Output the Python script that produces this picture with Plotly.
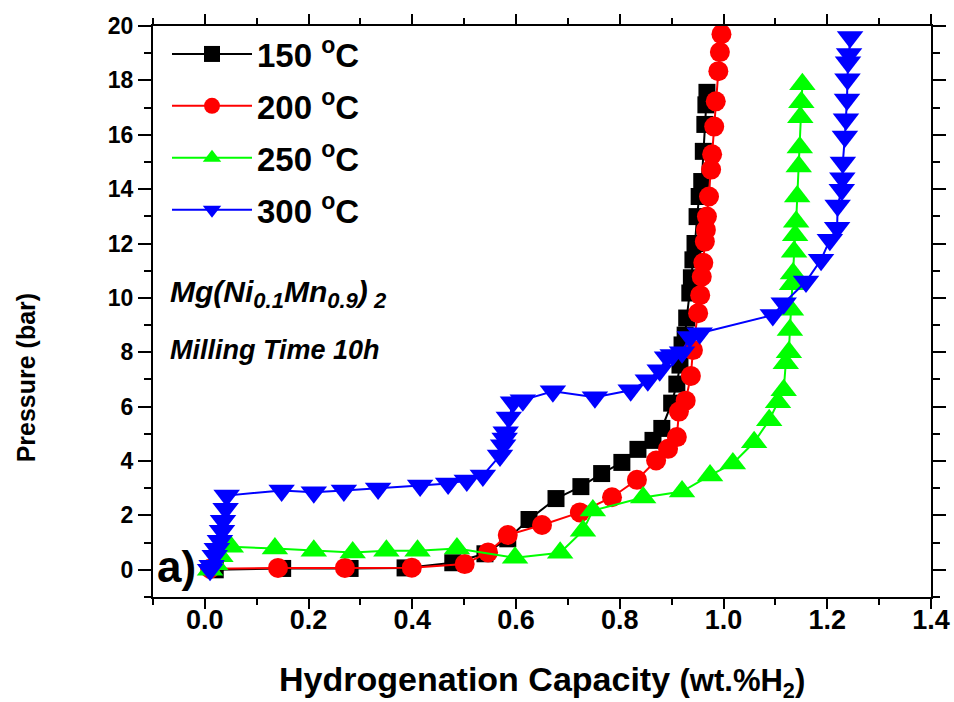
import plotly.graph_objects as go

# ---- data ----
x_150 = [0.02, 0.15, 0.28, 0.386, 0.478, 0.54, 0.584, 0.625, 0.677, 0.725, 0.765, 0.804,
         0.835, 0.864, 0.881, 0.900, 0.910, 0.916, 0.920, 0.926, 0.929, 0.935, 0.938, 0.941,
         0.945, 0.949, 0.953, 0.958, 0.961, 0.964, 0.966, 0.968]
p_150 = [0.0, 0.05, 0.05, 0.07, 0.26, 0.59, 1.14, 1.85, 2.62, 3.06, 3.54, 3.95,
         4.43, 4.76, 5.2, 6.13, 6.83, 7.53, 8.27, 8.63, 9.26, 10.18, 10.74, 11.4,
         12.0, 12.99, 13.73, 14.28, 15.39, 16.38, 17.1, 17.56]

x_200 = [0.01, 0.141, 0.27, 0.399, 0.501, 0.546, 0.584, 0.65, 0.723, 0.785, 0.833, 0.87,
         0.893, 0.91, 0.914, 0.927, 0.937, 0.941, 0.951, 0.955, 0.958, 0.961, 0.964, 0.966,
         0.968, 0.972, 0.976, 0.978, 0.982, 0.985, 0.990, 0.993, 0.996]
p_200 = [0.04, 0.07, 0.07, 0.08, 0.21, 0.64, 1.28, 1.65, 2.11, 2.67, 3.31, 4.02,
         4.45, 4.88, 5.82, 6.22, 7.13, 8.08, 9.44, 10.1, 10.78, 11.29, 12.07, 12.5,
         12.99, 13.73, 14.72, 15.28, 16.3, 17.23, 18.34, 19.04, 19.7]

x_250 = [0.01, 0.02, 0.03, 0.05, 0.135, 0.21, 0.285, 0.35, 0.41, 0.486, 0.598, 0.685,
         0.729, 0.748, 0.845, 0.92, 0.974, 1.018, 1.059, 1.088, 1.105, 1.116, 1.12, 1.126,
         1.128, 1.130, 1.132, 1.134, 1.136, 1.138, 1.140, 1.142, 1.145, 1.147, 1.148, 1.150,
         1.152]
p_250 = [0.0, 0.2, 0.5, 0.85, 0.78, 0.70, 0.64, 0.70, 0.70, 0.78, 0.44, 0.63,
         1.44, 2.18, 2.66, 2.88, 3.47, 3.91, 4.69, 5.5, 6.16, 6.6, 7.6, 8.0,
         8.82, 9.56, 10.5, 10.9, 11.7, 12.3, 12.8, 13.73, 14.83, 15.53, 16.64, 17.2,
         17.86]

x_300 = [0.01, 0.013, 0.019, 0.023, 0.029, 0.033, 0.035, 0.04, 0.042, 0.148, 0.21, 0.268,
         0.334, 0.415, 0.469, 0.505, 0.536, 0.569, 0.575, 0.578, 0.58, 0.586, 0.594, 0.613,
         0.671, 0.752, 0.821, 0.854, 0.877, 0.891, 0.902, 0.92, 0.935, 0.954, 1.095, 1.116,
         1.159, 1.188, 1.205, 1.219, 1.22, 1.228, 1.229, 1.23, 1.234, 1.236, 1.238, 1.239,
         1.24, 1.242, 1.244]
p_300 = [0.0, 0.15, 0.52, 0.77, 1.07, 1.44, 1.8, 2.25, 2.73, 2.92, 2.85, 2.92,
         2.99, 3.1, 3.17, 3.28, 3.47, 4.2, 4.58, 4.83, 5.06, 5.6, 6.16, 6.24,
         6.57, 6.35, 6.6, 6.97, 7.34, 7.82, 7.9, 8.0, 8.56, 8.7, 9.37, 9.8,
         10.6, 11.4, 12.14, 12.58, 13.4, 13.98, 14.4, 14.98, 15.94, 16.57, 17.3, 18.04,
         18.67, 18.97, 19.6]

series_names = ["150 <sup>o</sup>C", "200 <sup>o</sup>C", "250 <sup>o</sup>C", "300 <sup>o</sup>C"]
series_x = [x_150, x_200, x_250, x_300]
series_y = [p_150, p_200, p_250, p_300]
series_colors = ["#000000", "#ff0000", "#00ff00", "#0000ff"]
series_symbols = ["square", "circle", "triangle-up", "triangle-down"]
series_sizes = [17, 20, 23, 23]

REG = "Liberation Sans, Arial, sans-serif"

fig = go.Figure()
for i in range(4):
    fig.add_trace(go.Scatter(
        x=series_x[i], y=series_y[i], mode="lines+markers", name=series_names[i],
        legendgroup=str(i),
        line=dict(color=series_colors[i], width=2),
        marker=dict(symbol=series_symbols[i], size=series_sizes[i], color=series_colors[i],
                    line=dict(width=0)),
    ))

axis_common = dict(
    showgrid=False, zeroline=False, showline=True, linewidth=2, linecolor="black",
    mirror="allticks", ticks="outside", tickwidth=2, tickcolor="black", automargin=False,
)

fig.update_layout(
    width=954, height=702,
    margin=dict(l=153, r=23, t=26, b=105, autoexpand=False),
    plot_bgcolor="white", paper_bgcolor="white",
    showlegend=True,
    legend=dict(
        x=0.018, y=1.0, xanchor="left", yanchor="top",
        font=dict(family=REG, size=33, weight="bold", color="black"),
        itemwidth=80, tracegroupgap=6, bgcolor="rgba(0,0,0,0)",
    ),
    xaxis=dict(
        range=[-0.1, 1.4], tick0=0, dtick=0.2, tickformat=".1f", ticklen=10,
        ticklabelstandoff=-12,
        tickfont=dict(family=REG, size=27, weight="bold", color="black"),
        minor=dict(dtick=0.1, tick0=0, ticklen=6, tickwidth=2, tickcolor="black", ticks="outside"),
        **axis_common,
    ),
    yaxis=dict(
        range=[-1, 20], tick0=0, dtick=2, ticklen=13,
        tickfont=dict(family=REG, size=23, weight="bold", color="black"),
        minor=dict(dtick=1, tick0=0, ticklen=7, tickwidth=2, tickcolor="black", ticks="outside"),
        **axis_common,
    ),
)

annotations = [
    dict(text="Mg(Ni<sub><span style='font-size:22px'>0.1</span></sub>"
              "Mn<sub><span style='font-size:22px'>0.9</span></sub>)"
              "<sub><span style='font-size:22px'> 2</span></sub>",
         x=0.019, y=0.53,
         font=dict(family=REG, size=30, weight="bold", style="italic", color="black")),
    dict(text="Milling Time 10h", x=0.019, y=0.433,
         font=dict(family=REG, size=27, weight="bold", style="italic", color="black")),
    dict(text="a)", x=0.002, y=0.054,
         font=dict(family=REG, size=44, weight="bold", color="black")),
    dict(text="Hydrogenation Capacity <span style='font-size:31px'>(wt.%H<sub>2</sub>)</span>",
         x=0.5, y=-0.148, xanchor="center",
         font=dict(family=REG, size=34, weight="bold", color="black")),
    dict(text="Pressure (bar)", x=-0.163, y=0.385, textangle=-90, xanchor="center",
         font=dict(family=REG, size=25, weight="bold", color="black")),
]
for a in annotations:
    a.setdefault("xanchor", "left")
    fig.add_annotation(xref="paper", yref="paper", showarrow=False, yanchor="middle", **a)

fig.write_html("out.html")
